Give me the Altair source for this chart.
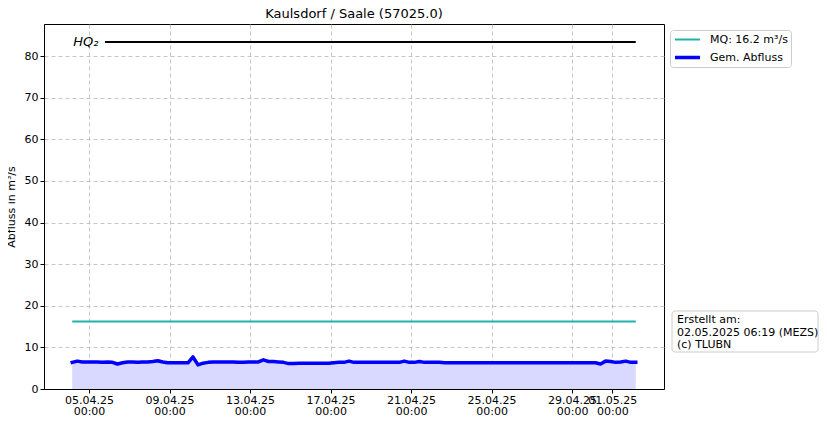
import altair as alt
import pandas as pd

# ---- data ----
flow_start = "2025-04-04T04:00"
flow_step = "6h"
flow_values = [
    6.4, 6.7, 6.5, 6.5,   # 04.04
    6.5, 6.5, 6.4, 6.5,   # 05.04
    6.4, 6.0, 6.3, 6.5,   # 06.04
    6.5, 6.4, 6.5, 6.5,   # 07.04
    6.6, 6.8, 6.5, 6.3,   # 08.04
    6.3, 6.3, 6.3, 6.3,   # 09.04
    7.7, 5.8, 6.2, 6.4,   # 10.04
    6.5, 6.5, 6.5, 6.5,   # 11.04
    6.5, 6.4, 6.4, 6.5,   # 12.04
    6.5, 6.5, 7.0, 6.6,   # 13.04
    6.6, 6.5, 6.4, 6.1,   # 14.04
    6.1, 6.2, 6.2, 6.2,   # 15.04
    6.2, 6.2, 6.2, 6.2,   # 16.04
    6.3, 6.4, 6.4, 6.7,   # 17.04
    6.4, 6.4, 6.4, 6.4,   # 18.04
    6.4, 6.4, 6.4, 6.4,   # 19.04
    6.4, 6.4, 6.7, 6.4,   # 20.04
    6.4, 6.6, 6.4, 6.4,   # 21.04
    6.4, 6.4, 6.3, 6.3,   # 22.04
    6.3, 6.3, 6.3, 6.3,   # 23.04
    6.3, 6.3, 6.3, 6.3,   # 24.04
    6.3, 6.3, 6.3, 6.3,   # 25.04
    6.3, 6.3, 6.3, 6.3,   # 26.04
    6.3, 6.3, 6.3, 6.3,   # 27.04
    6.3, 6.3, 6.3, 6.3,   # 28.04
    6.3, 6.3, 6.3, 6.3,   # 29.04
    6.3, 6.0, 6.7, 6.6,   # 30.04
    6.4, 6.5, 6.7, 6.4,   # 01.05
    6.4,                  # 02.05
]
flow_label = "Gem. Abfluss"
mq_value = 16.2
mq_label = "MQ: 16.2 m³/s"
hq2_value = 83.4
hq2_label = "HQ₂"
hq2_start = "2025-04-05T19:00"
title_text = "Kaulsdorf / Saale (57025.0)"
note_text = "Erstellt am:\n02.05.2025 06:19 (MEZS)\n(c) TLUBN"
y_ticks = [0, 10, 20, 30, 40, 50, 60, 70, 80]
x_tick_days = [(4, 5), (4, 9), (4, 13), (4, 17), (4, 21), (4, 25), (4, 29), (5, 1)]

# ---- tables ----
times = pd.date_range(flow_start, periods=len(flow_values), freq=flow_step)
tstr = list(times.strftime("%Y-%m-%dT%H:%M"))
flow_df = pd.DataFrame({"t": tstr, "q": flow_values, "series": flow_label})
mq_df = pd.DataFrame({"t": [tstr[0], tstr[-1]], "q": [mq_value] * 2, "series": mq_label})
hq_df = pd.DataFrame({"t": [hq2_start, tstr[-1]], "q": [hq2_value] * 2})
hq_lab_df = pd.DataFrame({"t": [tstr[0]], "q": [hq2_value], "txt": [hq2_label]})
note_df = pd.DataFrame({"txt": [note_text]})

x_scale = alt.Scale(domain=[alt.DateTime(year=2025, month=4, date=2, hours=18, minutes=20),
                            alt.DateTime(year=2025, month=5, date=3, hours=13, minutes=40)])
y_scale = alt.Scale(domain=[0, 87.7], nice=False, zero=False)

x_axis = alt.Axis(
    values=[alt.DateTime(year=2025, month=m, date=d) for m, d in x_tick_days],
    labelExpr="[timeFormat(datum.value, '%d.%m.%y'), timeFormat(datum.value, '%H:%M')]",
    title=None, grid=True, labelAngle=0, labelPadding=1, labelOverlap=False, labelLineHeight=11.5,
    labelBound=False,
)
y_axis = alt.Axis(values=y_ticks, title="Abfluss in m³/s", grid=True, titlePadding=8)

X = alt.X("t:T", scale=x_scale, axis=x_axis)
Y = alt.Y("q:Q", scale=y_scale, axis=y_axis)

series_domain = [mq_label, flow_label]
color = alt.Color("series:N", scale=alt.Scale(domain=series_domain, range=["#20b2aa", "#0000ff"]),
                  legend=alt.Legend(title=None))
swidth = alt.StrokeWidth("series:N", scale=alt.Scale(domain=series_domain, range=[2, 3.5]),
                         legend=alt.Legend(title=None))

area = alt.Chart(flow_df).mark_area(color="#d9d9ff", opacity=1).encode(x=X, y=Y)
flow_line = alt.Chart(flow_df).mark_line(strokeJoin="round", strokeCap="square").encode(
    x=X, y=Y, color=color, strokeWidth=swidth)
mq_line = alt.Chart(mq_df).mark_line().encode(x=X, y=Y, color=color, strokeWidth=swidth)
hq_line = alt.Chart(hq_df).mark_line(color="black", strokeWidth=2).encode(x=X, y=Y)
hq_text = alt.Chart(hq_lab_df).mark_text(
    align="left", baseline="middle", fontStyle="italic", fontSize=13, dx=1, color="black"
).encode(x=X, y=Y, text="txt:N")

note_box = alt.Chart(note_df).mark_rect(fill="white", stroke="#cccccc", strokeWidth=1, cornerRadius=3).encode(
    x=alt.value(628), x2=alt.value(774), y=alt.value(287), y2=alt.value(328)
)
note = alt.Chart(note_df).mark_text(
    align="left", baseline="top", lineBreak="\n", lineHeight=12.5, fontSize=11, color="black"
).encode(x=alt.value(633), y=alt.value(290), text="txt:N")

chart = alt.layer(area, mq_line, flow_line, hq_line, hq_text, note_box, note).properties(
    width=620, height=365,
    title=alt.TitleParams(title_text, fontSize=13, fontWeight="normal", offset=3, anchor="middle",
                          color="black"),
    autosize=alt.AutoSizeParams(type="none"),
    padding={"left": 36, "top": 16, "right": 155, "bottom": 29},
).configure(font="DejaVu Sans").configure_view(
    stroke="black", strokeWidth=1
).configure_axis(
    labelFontSize=11, labelColor="black", titleFontSize=11, titleFontWeight="normal", titleColor="black",
    domainColor="black", tickColor="black", tickSize=4, gridColor="#b8b8b8", gridDash=[4, 3],
    gridWidth=0.8, labelFont="DejaVu Sans", titleFont="DejaVu Sans",
).configure_legend(
    orient="none", legendX=626, legendY=6, strokeColor="#cccccc", fillColor="white",
    padding=3, cornerRadius=3, symbolType="stroke", symbolSize=625, labelFontSize=11,
    labelColor="black", clipHeight=13, rowPadding=5, labelOffset=8,
)

chart.save("out.html", embed_options={"renderer": "svg", "actions": False})
